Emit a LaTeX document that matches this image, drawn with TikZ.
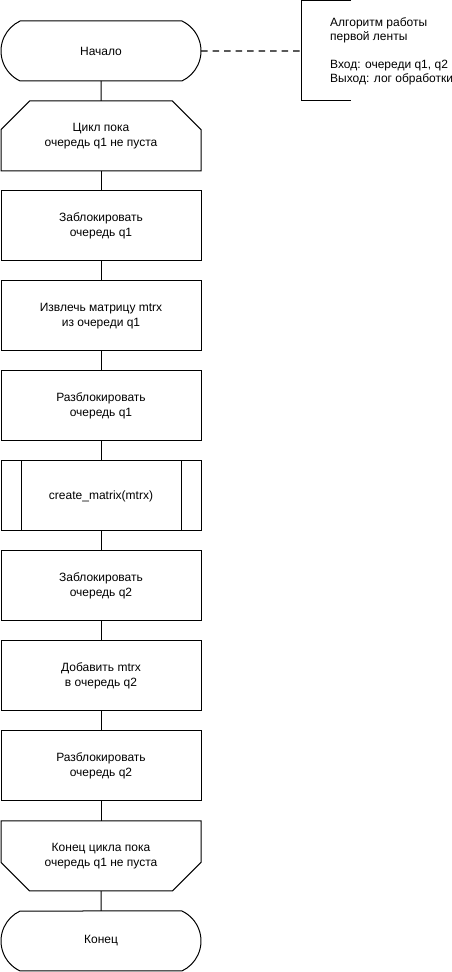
\documentclass[tikz,border=0pt]{standalone}
\usepackage{fontspec}
\setmainfont{Liberation Sans}
\usetikzlibrary{positioning,shapes.misc}

\begin{document}
\begin{tikzpicture}[x=1pt,y=1pt,
	terminal/.style={rounded rectangle,rounded rectangle arc length=130,draw,line width=1pt,inner sep=0pt,outer sep=0pt,minimum width=200pt,minimum height=60pt,align=center,font=\fontsize{12pt}{14.5pt}\selectfont},
	process/.style={rectangle,draw,line width=1pt,inner sep=0pt,outer sep=0pt,minimum width=200pt,minimum height=70pt,align=center,font=\fontsize{12pt}{14.5pt}\selectfont},
	loopstart/.style={chamfered rectangle,chamfered rectangle corners={north west,north east},chamfered rectangle xsep=20pt,chamfered rectangle ysep=16pt,draw,line width=1pt,inner sep=0pt,outer sep=0pt,minimum width=200pt,minimum height=70pt,align=center,font=\fontsize{12pt}{14.5pt}\selectfont},
	loopend/.style={loopstart,chamfered rectangle corners={south west,south east}},
	subproc/.style={process},
	notetext/.style={align=left,inner sep=0pt,anchor=west,font=\fontsize{12pt}{14pt}\selectfont},
	line/.style={line width=1pt},
	notebrace/.style={line width=1pt},
	noteline/.style={line width=1.2pt,dash pattern=on 6.5pt off 5pt},
	node distance=20pt
	]
\useasboundingbox (0,0) rectangle (452,972);

% start and loop head
\node [terminal] (start) at (101,921) {Начало};
\node [loopstart] (loop1) [below = of start] {Цикл пока\\очередь q1 не пуста};

% work on q1
\node [process] (lock1) [below = of loop1] {Заблокировать\\очередь q1};
\node [process] (take) [below = of lock1] {Извлечь матрицу mtrx\\из очереди q1};
\node [process] (unlock1) [below = of take] {Разблокировать\\очередь q1};
\node [subproc] (create) [below = of unlock1] {create\_matrix(mtrx)};
\draw [line] ([xshift=20pt]create.north west) -- ([xshift=20pt]create.south west);
\draw [line] ([xshift=-20pt]create.north east) -- ([xshift=-20pt]create.south east);

% work on q2
\node [process] (lock2) [below = of create] {Заблокировать\\очередь q2};
\node [process] (push) [below = of lock2] {Добавить mtrx\\в очередь q2};
\node [process] (unlock2) [below = of push] {Разблокировать\\очередь q2};

% loop end and stop
\node [loopend] (loop2) [below = of unlock2] {Конец цикла пока\\очередь q1 не пуста};
\node [terminal] (stop) [below = of loop2] {Конец};

% flow lines
\draw [line] (start) -- (loop1);
\draw [line] (loop1) -- (lock1);
\draw [line] (lock1) -- (take);
\draw [line] (take) -- (unlock1);
\draw [line] (unlock1) -- (create);
\draw [line] (create) -- (lock2);
\draw [line] (lock2) -- (push);
\draw [line] (push) -- (unlock2);
\draw [line] (unlock2) -- (loop2);
\draw [line] (loop2) -- (stop);

% comment
\coordinate (notebar) at (301,921);
\draw [notebrace] ([shift={(50pt,50pt)}]notebar) -- ([yshift=50pt]notebar) -- ([yshift=-50pt]notebar) -- ([shift={(50pt,-50pt)}]notebar);
\node [notetext] (note) [right = 29pt of notebar] {Алгоритм работы\\первой ленты\\[14pt]Вход: очереди q1, q2\\Выход: лог обработки};
\draw [noteline] (start) -- (notebar);
\end{tikzpicture}
\end{document}
